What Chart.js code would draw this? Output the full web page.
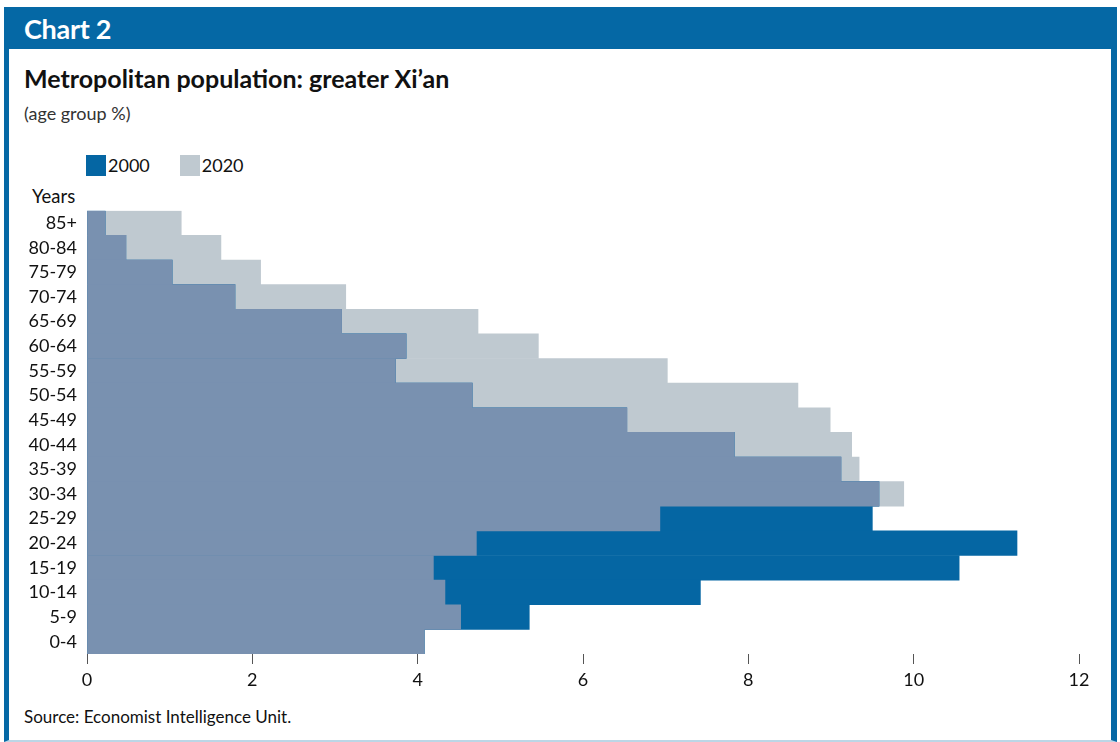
<!DOCTYPE html>
<html lang="en">
<head>
  <meta charset="UTF-8">
  <title>Chart 2 | Metropolitan population: greater Xi'an</title>
  <script src="https://cdn.jsdelivr.net/npm/chart.js"></script>
  <style>
    html, body { margin: 0; padding: 0; background: #fff; }
    body { width: 1120px; height: 742px; position: relative; overflow: hidden; font-family: Lato, "Open Sans", sans-serif; color: #111; }
    .frame { position: absolute; left: 4px; top: 7px; width: 1113px; height: 735px; box-sizing: border-box;
             border-left: 5px solid #0568a5; border-right: 6px solid #0568a5; border-bottom: 2px solid #bcd6e6; }
    .header { position: absolute; left: 4px; top: 7px; width: 1113px; height: 42px; background: #0568a5; }
    .header h1 { margin: 0; position: absolute; left: 20px; top: 5px; font-size: 27px; font-weight: 700; color: #fff; letter-spacing: -0.3px; }
    .title { position: absolute; left: 24px; top: 63px; font-size: 25px; font-weight: 700; letter-spacing: 0; margin: 0; }
    .subtitle { position: absolute; left: 24px; top: 102px; font-size: 18px; color: #333; }
    .legend { position: absolute; left: 86px; top: 155px; display: flex; font-size: 18px; line-height: 21px; }
    .legend span.item { display: flex; align-items: center; margin-right: 30px; }
    .legend span.box { display: inline-block; width: 20px; height: 21px; margin-right: 2px; }
    .years { position: absolute; left: 32px; top: 185px; font-size: 18.5px; }
    .source { position: absolute; left: 24px; top: 706px; font-size: 17px; }
    #chartWrap { position: absolute; left: 0; top: 190px; width: 1120px; height: 510px; }
  </style>
</head>
<body>
  <div class="frame"></div>
  <div class="header"><h1>Chart 2</h1></div>
  <h2 class="title">Metropolitan population: greater Xi’an</h2>
  <div class="subtitle">(age group %)</div>
  <div class="legend" id="legend"></div>
  <div class="years">Years</div>
  <div id="chartWrap"><canvas id="popChart"></canvas></div>
  <div class="source">Source: Economist Intelligence Unit.</div>

  <script>
    // Age groups, top to bottom as drawn
    const ageGroups = ['85+', '80-84', '75-79', '70-74', '65-69', '60-64', '55-59', '50-54', '45-49',
                       '40-44', '35-39', '30-34', '25-29', '20-24', '15-19', '10-14', '5-9', '0-4'];

    // Share of population by age group (%)
    const pop2000 = [0.22, 0.47, 1.03, 1.79, 3.08, 3.86, 3.73, 4.66, 6.53,
                     7.83, 9.12, 9.58, 9.50, 11.25, 10.55, 7.42, 5.35, 4.08];
    const pop2020 = [1.14, 1.62, 2.10, 3.13, 4.73, 5.46, 7.02, 8.60, 8.99,
                     9.25, 9.34, 9.88, 6.93, 4.71, 4.19, 4.33, 4.52, 4.08];

    const seriesNames = ['2000', '2020'];
    const xTicks = [0, 2, 4, 6, 8, 10, 12];

    const colors = { y2000: '#0566a3', y2020: '#bfc9d0', both: '#7991b0' };

    // Where both years cover the same span the reference shows a blended tone
    const overlap = pop2000.map((v, i) => Math.min(v, pop2020[i]));

    // HTML legend
    const legend = document.getElementById('legend');
    [colors.y2000, colors.y2020].forEach((c, i) => {
      const item = document.createElement('span');
      item.className = 'item';
      item.innerHTML = `<span class="box" style="background:${c}"></span>${seriesNames[i]}`;
      legend.appendChild(item);
    });

    const barOpts = { barPercentage: 1, categoryPercentage: 1, grouped: false, borderWidth: 0 };
    const tickFont = { family: 'Lato', size: 18 };

    new Chart(document.getElementById('popChart').getContext('2d'), {
      type: 'bar',
      data: {
        labels: ageGroups,
        datasets: [
          Object.assign({ label: 'both', data: overlap, backgroundColor: colors.both }, barOpts),
          Object.assign({ label: seriesNames[0], data: pop2000, backgroundColor: colors.y2000 }, barOpts),
          Object.assign({ label: seriesNames[1], data: pop2020, backgroundColor: colors.y2020 }, barOpts)
        ]
      },
      options: {
        indexAxis: 'y',
        responsive: true,
        maintainAspectRatio: false,
        animation: false,
        layout: { padding: { left: 10, right: 41, top: 0, bottom: 0 } },
        plugins: {
          legend: { display: false },
          tooltip: { enabled: false }
        },
        scales: {
          x: {
            min: 0,
            max: 12,
            afterBuildTicks: (axis) => { axis.ticks = xTicks.map(v => ({ value: v })); },
            afterFit: (axis) => { axis.height = 46; },
            grid: { drawOnChartArea: false, drawTicks: true, tickLength: 10, color: '#555', lineWidth: 1 },
            border: { display: false },
            ticks: { padding: 5, color: '#111', font: tickFont }
          },
          y: {
            afterFit: (axis) => { axis.width = 77; },
            grid: { display: false, drawTicks: false },
            border: { display: false },
            ticks: { padding: 10, color: '#111', font: tickFont, autoSkip: false }
          }
        }
      }
    });
  </script>
</body>
</html>
